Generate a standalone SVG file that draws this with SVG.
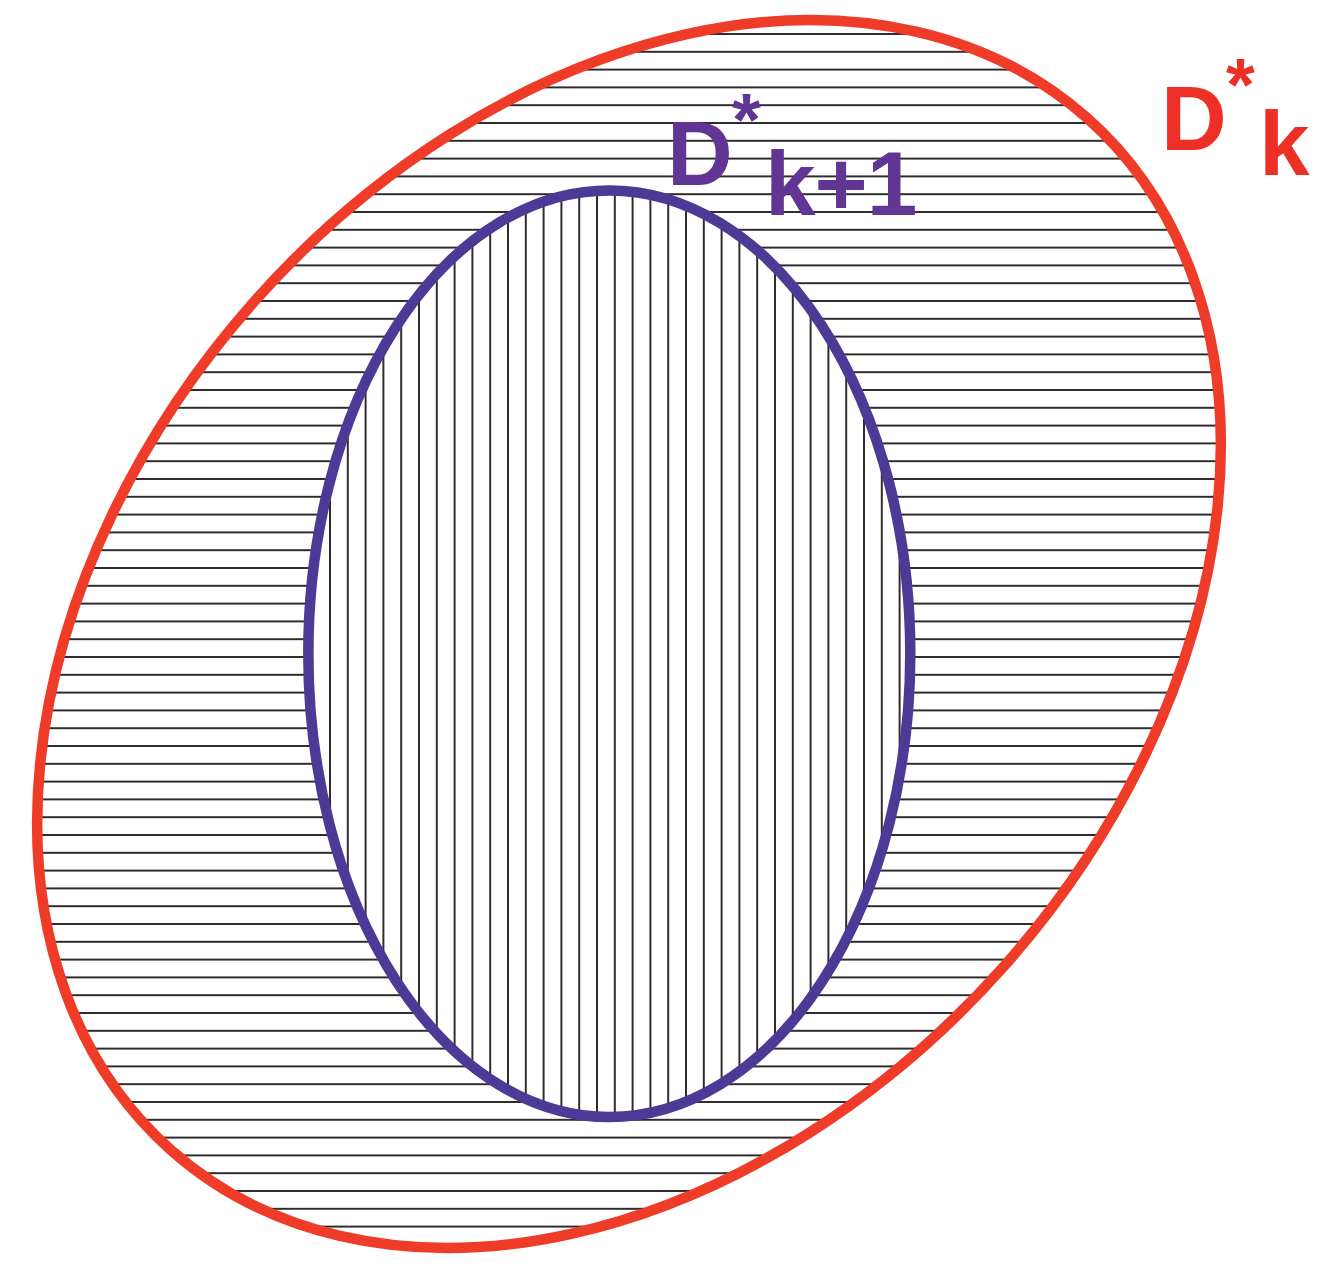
<svg xmlns="http://www.w3.org/2000/svg" width="1325" height="1269" viewBox="0 0 1325 1269">
  <style>
    .lbl { font-family: "Liberation Sans", Arial, sans-serif; font-weight: bold; font-size: 91px; }
    .star { font-family: "Liberation Sans", Arial, sans-serif; font-weight: bold; font-size: 74px; }
    .red { fill: #EE2F25; }
    .pur { fill: #603594; }
    .hatch { fill: #1A1718; }
  </style>
  <defs>
    <pattern id="hhatch" patternUnits="userSpaceOnUse" x="0" y="25.1" width="200" height="17.8">
      <rect class="hatch" x="0" y="8.0" width="200" height="1.8"/>
    </pattern>
    <pattern id="vhatch" patternUnits="userSpaceOnUse" x="321.1" y="0" width="17.8" height="200">
      <rect class="hatch" x="8.0" y="0" width="1.8" height="200"/>
    </pattern>
    <clipPath id="outerClip">
      <ellipse cx="629" cy="634" rx="690" ry="501" transform="rotate(-48.4 629 634)"/>
    </clipPath>
    <clipPath id="innerClip">
      <ellipse cx="609.3" cy="653.7" rx="301" ry="463.3"/>
    </clipPath>
  </defs>
  <rect width="1325" height="1269" fill="#ffffff"/>

  <g id="outer-region">
    <rect x="0" y="0" width="1325" height="1269" fill="url(#hhatch)" clip-path="url(#outerClip)"/>
  </g>

  <g id="inner-region">
    <ellipse cx="609.3" cy="653.7" rx="301" ry="463.3" fill="#ffffff"/>
    <rect x="0" y="0" width="1325" height="1269" fill="url(#vhatch)" clip-path="url(#innerClip)"/>
  </g>

  <g id="outer-boundary">
    <ellipse cx="629" cy="634" rx="690" ry="501" transform="rotate(-48.4 629 634)" fill="none" stroke="#EF3C28" stroke-width="10.5"/>
  </g>
  <g id="inner-boundary">
    <ellipse cx="609.3" cy="653.7" rx="301" ry="463.3" fill="none" stroke="#4C3A96" stroke-width="10.5"/>
  </g>

  <g id="label-dk1">
    <text class="lbl pur" x="667" y="184.5">D</text>
    <text class="star pur" x="732" y="145">*</text>
    <text class="lbl pur" x="765" y="214.5" letter-spacing="-1">k+1</text>
  </g>
  <g id="label-dk">
    <text class="lbl red" x="1161" y="150">D</text>
    <text class="star red" x="1226" y="110">*</text>
    <text class="lbl red" x="1259" y="175">k</text>
  </g>
</svg>
